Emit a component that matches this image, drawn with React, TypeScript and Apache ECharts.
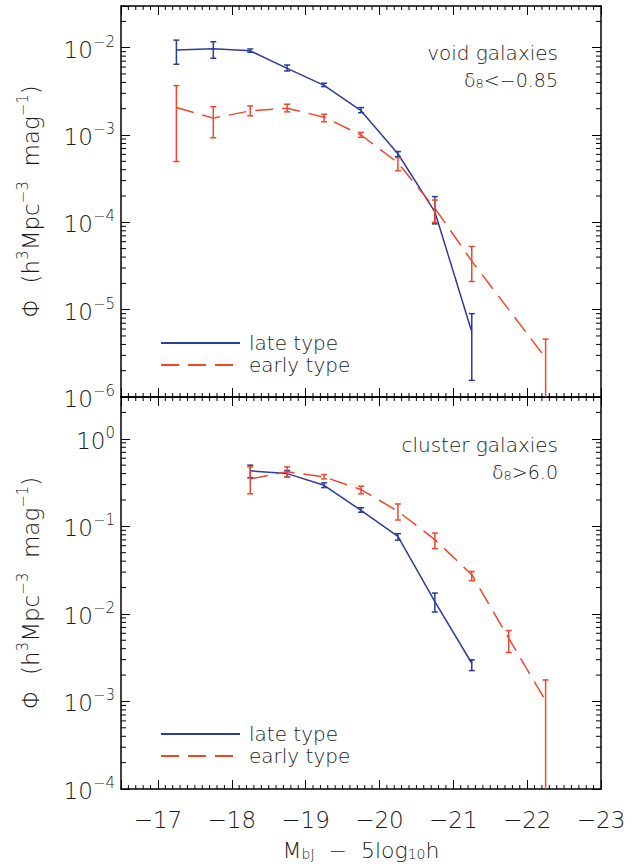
import React, { useEffect, useRef } from "react";
import * as echarts from "echarts";

// ---------- data ----------
// top panel: void galaxies, delta_8 < -0.85
const voidLateMag = [-17.25, -17.75, -18.25, -18.75, -19.25, -19.75, -20.25, -20.75, -21.25];
const voidLatePhi = [9.4e-3, 9.7e-3, 9.2e-3, 5.8e-3, 3.7e-3, 1.9e-3, 6.1e-4, 1.32e-4, 5.6e-6];
const voidLateHi = [1.22e-2, 1.17e-2, 9.66e-3, 6.33e-3, 3.92e-3, 2.06e-3, 6.46e-4, 1.97e-4, 9.0e-6];
const voidLateLo = [6.45e-3, 7.56e-3, 8.86e-3, 5.41e-3, 3.58e-3, 1.8e-3, 5.66e-4, 9.6e-5, 1.55e-6];

const voidEarlyMag = [-17.25, -17.75, -18.25, -18.75, -19.25, -19.75, -20.25, -20.75, -21.25, -22.25];
const voidEarlyPhi = [2.06e-3, 1.56e-3, 1.89e-3, 2.03e-3, 1.6e-3, 1.0e-3, 4.8e-4, 1.45e-4, 3.6e-5, 2.8e-6];
const voidEarlyHi = [3.67e-3, 2.11e-3, 2.15e-3, 2.25e-3, 1.73e-3, 1.07e-3, 5.5e-4, 1.8e-4, 5.3e-5, 4.6e-6];
const voidEarlyLo = [4.97e-4, 9.3e-4, 1.66e-3, 1.84e-3, 1.42e-3, 9.4e-4, 3.9e-4, 1.0e-4, 2.1e-5, 0];

// bottom panel: cluster galaxies, delta_8 > 6.0
const clusterLateMag = [-18.25, -18.75, -19.25, -19.75, -20.25, -20.75, -21.25];
const clusterLatePhi = [0.43, 0.4, 0.294, 0.152, 0.0768, 0.0138, 2.73e-3];
const clusterLateHi = [0.5, 0.434, 0.314, 0.163, 0.0825, 0.0173, 2.99e-3];
const clusterLateLo = [0.358, 0.367, 0.277, 0.145, 0.0695, 0.0105, 2.25e-3];

const clusterEarlyMag = [-18.25, -18.75, -19.25, -19.75, -20.25, -20.75, -21.25, -21.75, -22.25];
const clusterEarlyPhi = [0.348, 0.419, 0.367, 0.263, 0.1485, 0.0705, 0.028, 5.28e-3, 1.02e-3];
const clusterEarlyHi = [0.478, 0.478, 0.39, 0.287, 0.18, 0.0837, 0.0305, 6.46e-3, 1.76e-3];
const clusterEarlyLo = [0.235, 0.367, 0.348, 0.235, 0.118, 0.0556, 0.0239, 3.62e-3, 0];

// axes
const xMin = -23;
const xMax = -16.5;
const topYMin = 1e-6;
const topYMax = 0.03;
const botYMin = 1e-4;
const botYMax = 3;
const legendNames = ["late type", "early type"];

const BLUE = "#2b3c9e";
const RED = "#f0462c";
const FONT = "DejaVu Sans";
const TXT = "#1a1a1a";

function minorLogTicks(min: number, max: number): number[] {
  const out: number[] = [];
  for (let e = Math.floor(Math.log10(min)); e <= Math.ceil(Math.log10(max)); e++) {
    for (let m = 2; m <= 9; m++) {
      const v = m * Math.pow(10, e);
      if (v > min * 1.0001 && v < max * 0.9999) out.push(v);
    }
  }
  return out;
}

function minorXTicks(): number[] {
  const out: number[] = [];
  for (let i = Math.round(xMax * 10) - 1; i > Math.round(xMin * 10); i--) {
    if (i % 10 !== 0) out.push(i / 10);
  }
  return out;
}

const zip = (a: number[], b: number[]) => a.map((v, i) => [v, b[i]]);
const zip3 = (a: number[], lo: number[], hi: number[]) => a.map((v, i) => [v, lo[i], hi[i]]);

function yLabel(v: number) {
  const l = Math.log10(v);
  const e = Math.round(l);
  if (Math.abs(l - e) > 1e-6) return "";
  const es = e < 0 ? "\u2212" + Math.abs(e) : String(e);
  return `{b|10}{e|${es}}`;
}

const yRich = {
  b: { fontSize: 23, fontFamily: FONT, fontWeight: 200, color: TXT, lineHeight: 27, verticalAlign: "bottom" },
  e: { fontSize: 15, fontFamily: FONT, fontWeight: 200, color: TXT, lineHeight: 15, verticalAlign: "top" },
};

const nameRich = {
  n: { fontSize: 22, fontFamily: FONT, fontWeight: 200, color: TXT, lineHeight: 26, verticalAlign: "bottom" },
  s: { fontSize: 14, fontFamily: FONT, fontWeight: 200, color: TXT, lineHeight: 14, verticalAlign: "top" },
  d: { fontSize: 14, fontFamily: FONT, fontWeight: 200, color: TXT, lineHeight: 14, verticalAlign: "bottom" },
};

const yNameRich = {
  n: { fontSize: 23, fontFamily: FONT, fontWeight: 200, color: TXT, lineHeight: 27, verticalAlign: "bottom" },
  s: { fontSize: 15, fontFamily: FONT, fontWeight: 200, color: TXT, lineHeight: 15, verticalAlign: "top" },
};

function errorBarRender(color: string) {
  return (params: any, api: any) => {
    const cs = params.coordSys;
    const x = api.value(0);
    const lo = api.value(1);
    const hi = api.value(2);
    const top = cs.y;
    const bottom = cs.y + cs.height;
    const pHi = api.coord([x, hi]);
    const px = pHi[0];
    let yHi = pHi[1];
    let yLo = lo > 0 ? api.coord([x, lo])[1] : bottom + 10;
    const capHi = yHi >= top;
    const capLo = yLo <= bottom;
    yHi = Math.max(top, yHi);
    yLo = Math.min(bottom, yLo);
    const st = { stroke: color, lineWidth: 1.5 };
    const w = 3;
    const children: any[] = [
      { type: "line", shape: { x1: px, y1: yHi, x2: px, y2: yLo }, style: st },
    ];
    if (capHi) children.push({ type: "line", shape: { x1: px - w, y1: yHi, x2: px + w, y2: yHi }, style: st });
    if (capLo) children.push({ type: "line", shape: { x1: px - w, y1: yLo, x2: px + w, y2: yLo }, style: st });
    return { type: "group", children };
  };
}

function yMinorRender(params: any, api: any) {
  const cs = params.coordSys;
  const y = api.coord([api.value(0), api.value(1)])[1];
  const st = { stroke: "#000", lineWidth: 1 };
  return {
    type: "group",
    children: [
      { type: "line", shape: { x1: cs.x, y1: y, x2: cs.x + 5, y2: y }, style: st },
      { type: "line", shape: { x1: cs.x + cs.width, y1: y, x2: cs.x + cs.width - 5, y2: y }, style: st },
    ],
  };
}

function xMinorRender(params: any, api: any) {
  const cs = params.coordSys;
  const x = api.coord([api.value(0), api.value(1)])[0];
  const st = { stroke: "#000", lineWidth: 1 };
  return {
    type: "group",
    children: [
      { type: "line", shape: { x1: x, y1: cs.y, x2: x, y2: cs.y + 4 }, style: st },
      { type: "line", shape: { x1: x, y1: cs.y + cs.height, x2: x, y2: cs.y + cs.height - 4 }, style: st },
    ],
  };
}

const axisLine = { show: true, onZero: false, lineStyle: { color: "#000", width: 1.5 } };
const majorTick = { show: true, inside: true, length: 9, lineStyle: { color: "#000", width: 1 } };

function xAxisDef(gridIndex: number, position: "top" | "bottom", labels: boolean): any {
  return {
    type: "value",
    gridIndex,
    position,
    min: xMin,
    max: xMax,
    interval: 1,
    inverse: true,
    axisLine,
    axisTick: majorTick,
    splitLine: { show: false },
    axisLabel: labels
      ? {
          show: true,
          margin: 19,
          fontSize: 23,
          fontFamily: FONT,
          fontWeight: 200,
          color: TXT,
          formatter: (v: number) => (Number.isInteger(v) ? "\u2212" + Math.abs(v) : ""),
        }
      : { show: false },
    name: labels ? "{n|M}{d|bJ}{n|  \u2212  5log}{d|10}{n|h}" : "",
    nameLocation: "middle",
    nameGap: 46,
    nameTextStyle: { rich: nameRich },
  };
}

function yAxisDef(gridIndex: number, position: "left" | "right", min: number, max: number, labels: boolean): any {
  return {
    type: "log",
    gridIndex,
    position,
    min,
    max,
    logBase: 10,
    axisLine,
    axisTick: majorTick,
    splitLine: { show: false },
    axisLabel: labels
      ? { show: true, margin: 6, formatter: yLabel, rich: yRich }
      : { show: false },
    name: labels ? "{n|\u03A6  (h}{s|3}{n|Mpc}{s|\u22123}{n|  mag}{s|\u22121}{n|)}" : "",
    nameLocation: "middle",
    nameGap: 79,
    nameTextStyle: { rich: yNameRich },
  };
}

export default function App() {
  const ref = useRef<HTMLDivElement>(null);
  useEffect(() => {
    if (!ref.current) return;
    const chart = echarts.init(ref.current, null, { renderer: "svg" });
    const topMinor = minorLogTicks(topYMin, topYMax).map((v) => [-20, v]);
    const botMinor = minorLogTicks(botYMin, botYMax).map((v) => [-20, v]);
    const xm = minorXTicks();
    const lineSeries = (name: string, data: number[][], color: string, dashed: boolean, gi: number) => ({
      type: "line",
      name,
      data,
      xAxisIndex: gi * 2,
      yAxisIndex: gi * 2,
      symbol: "none",
      showSymbol: false,
      lineStyle: { color, width: 1.5, type: dashed ? [18, 9] : "solid" },
      itemStyle: { color },
      z: 3,
    });
    const errSeries = (data: number[][], color: string, gi: number) => ({
      type: "custom",
      name: "err",
      data,
      xAxisIndex: gi * 2,
      yAxisIndex: gi * 2,
      encode: { x: 0, y: [1, 2] },
      renderItem: errorBarRender(color),
      silent: true,
      z: 4,
    });
    const legendDef = (top: number) => ({
      data: legendNames,
      orient: "vertical",
      left: 155,
      top,
      itemWidth: 79,
      itemHeight: 10,
      itemGap: 2,
      selectedMode: false,
      itemStyle: { opacity: 0, borderWidth: 0 },
      textStyle: { fontSize: 20, fontFamily: FONT, fontWeight: 200, color: TXT, lineHeight: 19, padding: [0, 0, 0, 4] },
    });
    const option: any = {
      animation: false,
      backgroundColor: "#fff",
      textStyle: { fontFamily: FONT, fontWeight: 200 },
      grid: [
        { left: 121, right: 32, top: 6, height: 391 },
        { left: 121, right: 32, top: 397, height: 392 },
      ],
      xAxis: [
        xAxisDef(0, "bottom", false),
        xAxisDef(0, "top", false),
        xAxisDef(1, "bottom", true),
        xAxisDef(1, "top", false),
      ],
      yAxis: [
        yAxisDef(0, "left", topYMin, topYMax, true),
        yAxisDef(0, "right", topYMin, topYMax, false),
        yAxisDef(1, "left", botYMin, botYMax, true),
        yAxisDef(1, "right", botYMin, botYMax, false),
      ],
      legend: [legendDef(328), legendDef(719)],
      series: [
        lineSeries("late type", zip(voidLateMag, voidLatePhi), BLUE, false, 0),
        lineSeries("early type", zip(voidEarlyMag, voidEarlyPhi), RED, true, 0),
        lineSeries("late type", zip(clusterLateMag, clusterLatePhi), BLUE, false, 1),
        lineSeries("early type", zip(clusterEarlyMag, clusterEarlyPhi), RED, true, 1),
        errSeries(zip3(voidLateMag, voidLateLo, voidLateHi), BLUE, 0),
        errSeries(zip3(voidEarlyMag, voidEarlyLo, voidEarlyHi), RED, 0),
        errSeries(zip3(clusterLateMag, clusterLateLo, clusterLateHi), BLUE, 1),
        errSeries(zip3(clusterEarlyMag, clusterEarlyLo, clusterEarlyHi), RED, 1),
        { type: "custom", name: "ticks", data: topMinor, xAxisIndex: 0, yAxisIndex: 0, encode: { x: 0, y: 1 }, renderItem: yMinorRender, silent: true, z: 5 },
        { type: "custom", name: "ticks", data: botMinor, xAxisIndex: 2, yAxisIndex: 2, encode: { x: 0, y: 1 }, renderItem: yMinorRender, silent: true, z: 5 },
        { type: "custom", name: "ticks", data: xm.map((x) => [x, 1e-3]), xAxisIndex: 0, yAxisIndex: 0, encode: { x: 0, y: 1 }, renderItem: xMinorRender, silent: true, z: 5 },
        { type: "custom", name: "ticks", data: xm.map((x) => [x, 1e-2]), xAxisIndex: 2, yAxisIndex: 2, encode: { x: 0, y: 1 }, renderItem: xMinorRender, silent: true, z: 5 },
      ],
      graphic: [
        { type: "text", x: 558, y: 53, style: { text: "void galaxies", fill: TXT, font: `200 20px '${FONT}'`, textAlign: "right", textVerticalAlign: "middle" } },
        {
          type: "text", x: 558, y: 80,
          style: {
            text: "{n|\u03B4}{s|8}{n|<\u22120.85}", textAlign: "right", textVerticalAlign: "middle",
            rich: { n: { fontSize: 19, fontFamily: FONT, fontWeight: 200, fill: TXT, lineHeight: 19, verticalAlign: "top" }, s: { fontSize: 13, fontFamily: FONT, fontWeight: 200, fill: TXT, lineHeight: 13, verticalAlign: "bottom" } },
          },
        },
        { type: "text", x: 558, y: 445, style: { text: "cluster galaxies", fill: TXT, font: `200 20px '${FONT}'`, textAlign: "right", textVerticalAlign: "middle" } },
        {
          type: "text", x: 558, y: 472,
          style: {
            text: "{n|\u03B4}{s|8}{n|>6.0}", textAlign: "right", textVerticalAlign: "middle",
            rich: { n: { fontSize: 19, fontFamily: FONT, fontWeight: 200, fill: TXT, lineHeight: 19, verticalAlign: "top" }, s: { fontSize: 13, fontFamily: FONT, fontWeight: 200, fill: TXT, lineHeight: 13, verticalAlign: "bottom" } },
          },
        },
      ],
    };
    chart.setOption(option);
    return () => chart.dispose();
  }, []);
  return <div ref={ref} style={{ width: 633, height: 866, position: "absolute", left: 0, top: 0 }} />;
}
